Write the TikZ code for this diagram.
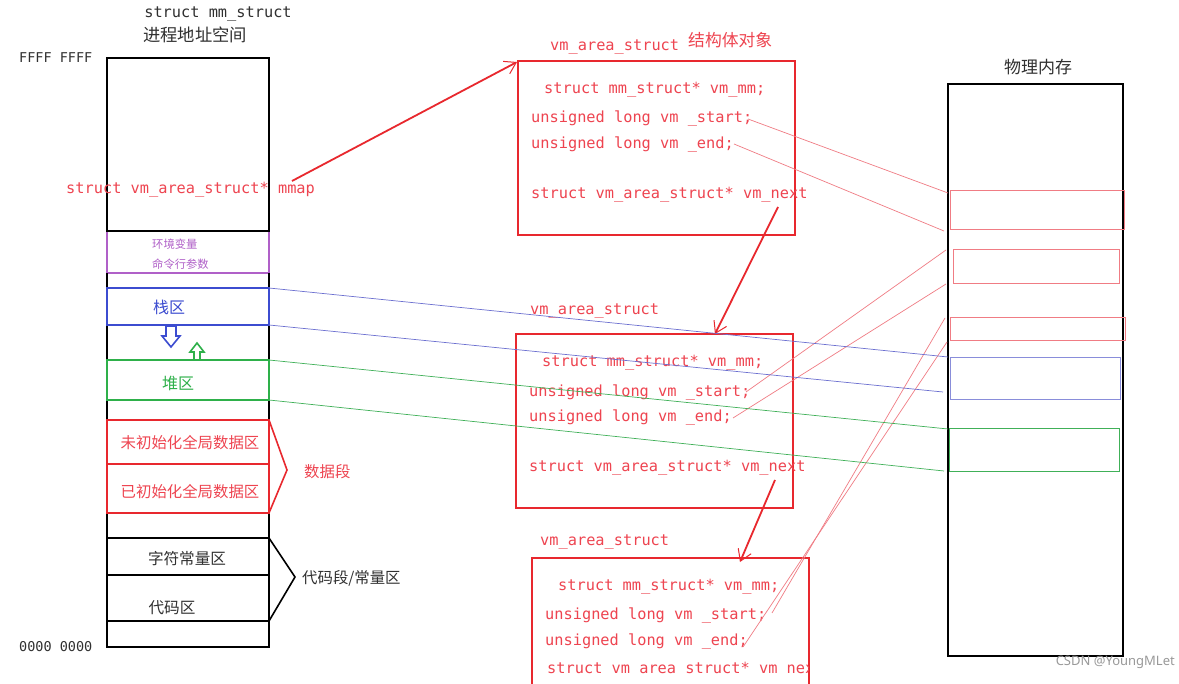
\documentclass[tikz,border=0pt]{standalone}
\usepackage{fontspec}
\newfontfamily\cjkf{Noto Sans CJK SC}
\newfontfamily\monof{DejaVu Sans Mono}
\newfontfamily\wmf{Noto Sans}
\usetikzlibrary{arrows.meta}
\definecolor{bred}{HTML}{E8282E}
\definecolor{tred}{HTML}{EE4450}
\definecolor{lred}{HTML}{F07C84}
\definecolor{purp}{HTML}{B060C8}
\definecolor{bblue}{HTML}{3C4CD0}
\definecolor{lblue}{HTML}{6C70D0}
\definecolor{bgreen}{HTML}{2EB04A}
\definecolor{lgreen}{HTML}{40B058}
\definecolor{tgray}{HTML}{303030}
\begin{document}
\begin{tikzpicture}[x=1pt,y=-1pt,
  code/.style={font=\monof\fontsize{15.3}{18}\selectfont, text=tred, anchor=west, inner sep=0, yshift=-2pt},
  addr/.style={font=\monof\fontsize{13.5}{16}\selectfont, text=tgray, anchor=west, inner sep=0, yshift=-1pt},
  cn/.style={font=\cjkf\fontsize{#1}{#1}\selectfont, inner sep=0},
  thickbox/.style={line width=2pt},
  link/.style={line width=0.7pt},
  ptr/.style={bred, line width=1.8pt, -{Straight Barb[length=11pt,width=14pt,line width=1pt]}}]
\fill[white] (0,0) rectangle (1179,684);
\useasboundingbox (0,0) rectangle (1179,684);

% ---------- titles ----------
\node[font=\monof\fontsize{15.3}{18}\selectfont, text=tgray, inner sep=0, yshift=-2pt] (mmtitle) at (218,12) {struct mm\_struct};
\node[cn=17.3, text=tgray] (vastitle) at (195,35) {进程地址空间};
\node[addr] (ffff) at (19,57) {FFFF FFFF};
\node[addr] (zero) at (19,646) {0000 0000};

% ---------- left column ----------
\draw[purp, thickbox] (107,231) rectangle (269,273);
\draw[thickbox] (107,58) rectangle (269,231);
\draw[thickbox] (107,273) -- (107,647) -- (269,647) -- (269,273);
\draw[bblue, line width=1.8pt] (107,288) rectangle (269,325);
\draw[bgreen, line width=1.8pt] (107,360) rectangle (269,400);
\draw[bred, line width=1.8pt] (107,420) rectangle (269,513);
\draw[bred, line width=1.8pt] (107,464) -- (269,464);
\draw[thickbox] (107,538) rectangle (269,621);
\draw[thickbox] (107,575) -- (269,575);

\node[cn=11.3, text=purp, anchor=west] (env) at (152,244) {环境变量};
\node[cn=11.3, text=purp, anchor=west] (args) at (152,264) {命令行参数};
\node[cn=16, text=bblue] (stack) at (169,307) {栈区};
\node[cn=16, text=bgreen] (heap) at (178,383) {堆区};
\node[cn=15.4, text=tred] (bss) at (190,443) {未初始化全局数据区};
\node[cn=15.4, text=tred] (data) at (190,492) {已初始化全局数据区};
\node[cn=15.6, text=tgray] (rodata) at (187,559) {字符常量区};
\node[cn=15.6, text=tgray] (text) at (172,608) {代码区};
\node[cn=15.4, text=tred, anchor=west] (dataseg) at (304,472) {数据段};
\node[cn=15.4, text=tgray, anchor=west] (codeseg) at (302,578) {代码段/常量区};

% brackets
\draw[bred, line width=1.6pt] (269,420) -- (287,470) -- (269,513);
\draw[line width=1.6pt] (269,538) -- (295,577) -- (269,621);

% hollow arrows
\draw[bblue, line width=1.6pt, line join=miter] (166,326) -- (176,326) -- (176,336) -- (180,336) -- (171,347) -- (162,336) -- (166,336) -- cycle;
\draw[bgreen, line width=1.6pt, line join=miter] (197,343) -- (204,352) -- (200,352) -- (200,360) -- (194,360) -- (194,352) -- (190,352) -- cycle;

% mmap pointer
\node[code] (mmap) at (66,188) {struct vm\_area\_struct* mmap};

% ---------- vm_area_struct 1 ----------
\node[code, anchor=west] (t1) at (550,45) {vm\_area\_struct};
\node[cn=16.8, text=tred, anchor=west] (t1cn) at (688,40) {结构体对象};
\draw[bred, line width=1.8pt] (518,61) rectangle (795,235);
\node[code] (a1mm) at (544,88) {struct mm\_struct* vm\_mm;};
\node[code] (a1s) at (531,116) {unsigned long vm \_start;};
\node[code] (a1e) at (531,142) {unsigned long vm \_end;};
\node[code] (a1n) at (531,193) {struct vm\_area\_struct* vm\_next};

% ---------- vm_area_struct 2 ----------
\node[code] (t2) at (530,309) {vm\_area\_struct};
\draw[bred, line width=1.8pt] (516,334) rectangle (793,508);
\node[code] (a2mm) at (542,361) {struct mm\_struct* vm\_mm;};
\node[code] (a2s) at (529,390) {unsigned long vm \_start;};
\node[code] (a2e) at (529,415) {unsigned long vm \_end;};
\node[code] (a2n) at (529,466) {struct vm\_area\_struct* vm\_next};

% ---------- vm_area_struct 3 ----------
\node[code] (t3) at (540,540) {vm\_area\_struct};
\draw[bred, line width=1.8pt] (532,684) -- (532,558) -- (809,558) -- (809,684);
\node[code] (a3mm) at (558,585) {struct mm\_struct* vm\_mm;};
\node[code] (a3s) at (545,613) {unsigned long vm \_start;};
\node[code] (a3e) at (545,639) {unsigned long vm \_end;};
\begin{scope}
\clip (532,655) rectangle (808,674.5);
\node[code] (a3n) at (547,668) {struct vm\_area\_struct* vm\_next};
\end{scope}

% ---------- physical memory ----------
\node[cn=17, text=tgray] (phystitle) at (1038,67) {物理内存};
\draw[line width=2pt] (948,84) rectangle (1123,656);
\draw[lred, line width=1pt] (950,191) rectangle (1124,230);
\draw[lred, line width=1pt] (953,250) rectangle (1119,284);
\draw[lred, line width=1pt] (950,318) rectangle (1125,341);
\draw[lblue!80, line width=1pt] (950,358) rectangle (1120,400);
\draw[lgreen, line width=1pt] (949,429) rectangle (1119,472);

% ---------- connector coordinates ----------
\coordinate (mmapend) at (292,181);
\coordinate (b1corner) at (517,62);
\coordinate (n1) at (778,207);
\coordinate (b2top) at (715,334);
\coordinate (n2) at (775,480);
\coordinate (b3top) at (740,562);
\coordinate (s1) at (748,119);
\coordinate (e1) at (734,144);
\coordinate (s2) at (746,392);
\coordinate (e2) at (733,418);
\coordinate (s3) at (772,613);
\coordinate (e3) at (743,647);
\coordinate (p1a) at (948,193);
\coordinate (p1b) at (944,231);
\coordinate (p2a) at (946,250);
\coordinate (p2b) at (946,284);
\coordinate (p3a) at (945,318);
\coordinate (p3b) at (947,342);
\coordinate (stA) at (269,288);
\coordinate (stB) at (269,325);
\coordinate (hpA) at (269,360);
\coordinate (hpB) at (269,400);
\coordinate (pbA) at (948,357);
\coordinate (pbB) at (943,392);
\coordinate (pgA) at (948,429);
\coordinate (pgB) at (944,471);

% pointers
\draw[ptr] (mmapend) -- (b1corner);
\draw[ptr] (n1) -- (b2top);
\draw[ptr] (n2) -- (b3top);

% mapping lines
\draw[lred, link] (s1) -- (p1a);
\draw[lred, link] (e1) -- (p1b);
\draw[lred, link] (s2) -- (p2a);
\draw[lred, link] (e2) -- (p2b);
\draw[lred, link] (s3) -- (p3a);
\draw[lred, link] (e3) -- (p3b);
\draw[lblue, link] (stA) -- (pbA);
\draw[lblue, link] (stB) -- (pbB);
\draw[lgreen, link] (hpA) -- (pgA);
\draw[lgreen, link] (hpB) -- (pgB);

% watermark
\node[font=\wmf\fontsize{13}{14}\selectfont, text=black!40, anchor=east, inner sep=0] (wm) at (1175,662) {CSDN @YoungMLet};
\end{tikzpicture}
\end{document}
